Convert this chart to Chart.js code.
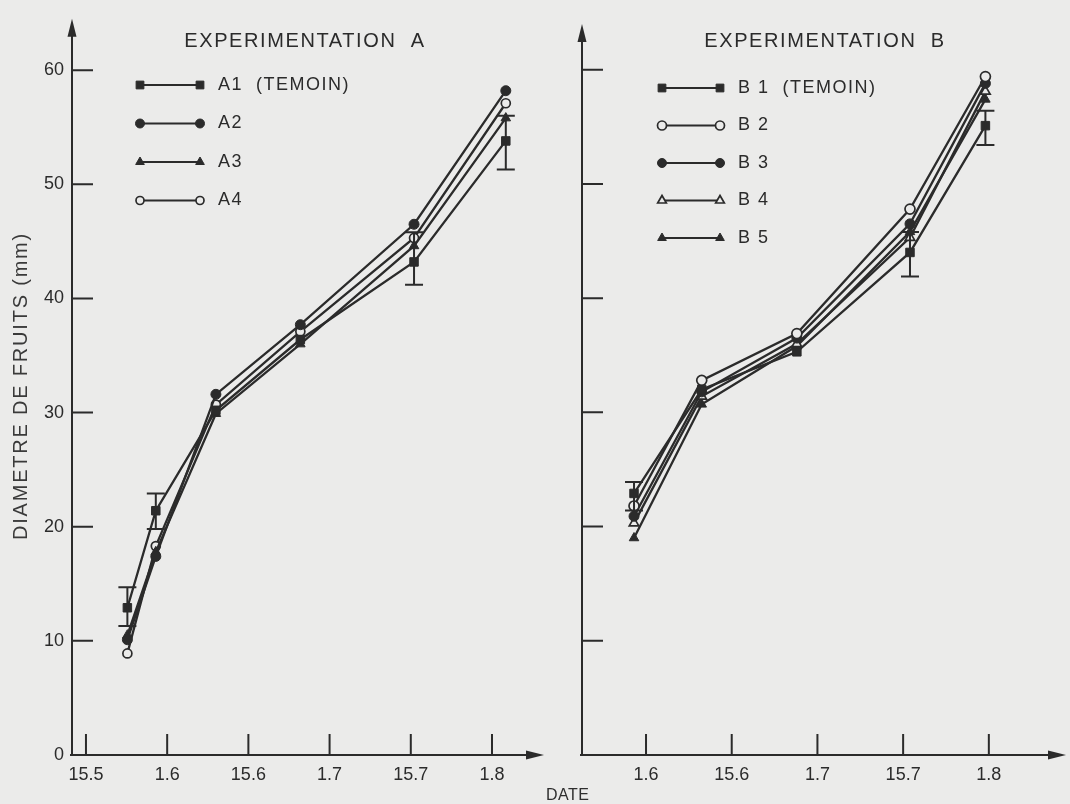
<!DOCTYPE html>
<html>
<head>
<meta charset="utf-8">
<title>Diametre de fruits</title>
<script src="https://cdn.jsdelivr.net/npm/chart.js@4.4.1/dist/chart.umd.min.js"></script>
<style>
  html, body { margin: 0; padding: 0; background: #ebebea; }
  #wrap { position: relative; width: 1070px; height: 804px; overflow: hidden; }
  canvas { position: absolute; top: 0; }
  #chartA { left: 0; }
  #chartB { left: 540px; }
  #dateLabel {
    position: absolute; left: 546px; top: 786px;
    font: 16px "Liberation Sans", Arial, sans-serif; color: #2e2e2e; letter-spacing: 0.5px;
  }
</style>
</head>
<body>
<div id="wrap">
  <canvas id="chartA" width="555" height="804"></canvas>
  <canvas id="chartB" width="530" height="804"></canvas>
  <div id="dateLabel">DATE</div>
</div>
<script>
// --- données ---
const dateLabels = ['15.5', '1.6', '15.6', '1.7', '15.7', '1.8'];
const yTicks = [0, 10, 20, 30, 40, 50, 60];
const yTitle = 'DIAMETRE DE FRUITS (mm)';

// Experimentation A  (dates = position sur l'axe, 0 = 15.5, 1 = 1.6 ...)
const titleA = 'EXPERIMENTATION  A';
const datesA = [0.51, 0.86, 1.60, 2.64, 4.04, 5.17];
const namesA = ['A1  (TEMOIN)', 'A2', 'A3', 'A4'];
const a1 = [12.9, 21.4, 30.2, 36.4, 43.2, 53.8];
const a2 = [10.1, 17.4, 31.6, 37.7, 46.5, 58.2];
const a3 = [10.5, 17.8, 29.9, 36.0, 44.6, 55.8];
const a4 = [8.9, 18.3, 30.7, 37.1, 45.3, 57.1];
const a1Low = [11.3, 19.8, null, null, 41.2, 51.3];
const a1High = [14.7, 22.9, null, null, 45.8, 56.0];

// Experimentation B
const titleB = 'EXPERIMENTATION  B';
const datesB = [0.86, 1.65, 2.76, 4.08, 4.96];
const namesB = ['B 1  (TEMOIN)', 'B 2', 'B 3', 'B 4', 'B 5'];
const b1 = [22.9, 32.0, 35.3, 44.0, 55.1];
const b2 = [21.8, 32.8, 36.9, 47.8, 59.4];
const b3 = [20.9, 31.8, 36.5, 46.5, 58.8];
const b4 = [20.3, 31.4, 36.0, 45.3, 58.1];
const b5 = [19.0, 30.7, 35.8, 45.8, 57.4];
const b1Low = [21.4, null, null, 41.9, 53.4];
const b1High = [23.9, null, null, 45.8, 56.4];

// --- styles ---
const ink = '#2b2b2b';
const paper = '#ebebea';
const font = '"Liberation Sans", Arial, sans-serif';
const markA = [
  { style: 'rect', radius: 6, open: false },
  { style: 'circle', radius: 5, open: false },
  { style: 'triangle', radius: 5.5, open: false },
  { style: 'circle', radius: 4.5, open: true }
];
const markB = [
  { style: 'rect', radius: 6, open: false },
  { style: 'circle', radius: 5, open: true },
  { style: 'circle', radius: 5, open: false },
  { style: 'triangle', radius: 5.5, open: true },
  { style: 'triangle', radius: 5.5, open: false }
];

function makeDatasets(dates, series, names, marks) {
    return series.map((vals, i) => ({
        label: names[i],
        data: dates.map((d, k) => ({ x: d, y: vals[k] })),
        borderColor: ink,
        borderWidth: 2.3,
        pointStyle: marks[i].style,
        pointRadius: marks[i].radius,
        pointBorderWidth: marks[i].open ? 1.7 : 1,
        pointBorderColor: ink,
        pointBackgroundColor: marks[i].open ? paper : ink,
        tension: 0
    }));
}

// axes avec flèches et graduations tournées vers l'intérieur
const axesPlugin = {
    id: 'axesArrows',
    afterDraw(chart, args, o) {
        const { ctx, chartArea: a, scales: { x, y } } = chart;
        ctx.save();
        ctx.strokeStyle = ink;
        ctx.fillStyle = ink;
        ctx.lineWidth = 2;
        ctx.beginPath();
        ctx.moveTo(a.left, a.bottom);
        ctx.lineTo(a.left, a.top + 14);
        ctx.moveTo(a.left - 2, a.bottom);
        ctx.lineTo(a.right + o.overrun - 14, a.bottom);
        ctx.stroke();
        // flèche haut
        ctx.beginPath();
        ctx.moveTo(a.left, a.top);
        ctx.lineTo(a.left - 4.5, a.top + 18);
        ctx.lineTo(a.left + 4.5, a.top + 18);
        ctx.closePath();
        ctx.fill();
        // flèche droite
        const tip = a.right + o.overrun;
        ctx.beginPath();
        ctx.moveTo(tip, a.bottom);
        ctx.lineTo(tip - 18, a.bottom - 4.5);
        ctx.lineTo(tip - 18, a.bottom + 4.5);
        ctx.closePath();
        ctx.fill();
        // graduations
        ctx.beginPath();
        y.ticks.forEach(t => {
            if (t.value === 0) return;
            const py = y.getPixelForValue(t.value);
            ctx.moveTo(a.left, py);
            ctx.lineTo(a.left + 21, py);
        });
        x.ticks.forEach(t => {
            const px = x.getPixelForValue(t.value);
            ctx.moveTo(px, a.bottom);
            ctx.lineTo(px, a.bottom - 21);
        });
        ctx.stroke();
        ctx.restore();
    }
};

// barres d'erreur du témoin
const errorBarPlugin = {
    id: 'errorBars',
    afterDatasetsDraw(chart, args, o) {
        const { ctx, scales: { x, y } } = chart;
        ctx.save();
        ctx.strokeStyle = ink;
        ctx.lineWidth = 2;
        ctx.beginPath();
        o.dates.forEach((d, i) => {
            if (o.low[i] == null) return;
            const px = x.getPixelForValue(d);
            const p1 = y.getPixelForValue(o.low[i]);
            const p2 = y.getPixelForValue(o.high[i]);
            ctx.moveTo(px, p1); ctx.lineTo(px, p2);
            ctx.moveTo(px - 9, p1); ctx.lineTo(px + 9, p1);
            ctx.moveTo(px - 9, p2); ctx.lineTo(px + 9, p2);
        });
        ctx.stroke();
        ctx.restore();
    }
};

// titre, légende (symbole — symbole) et titre de l'axe Y
const annotatePlugin = {
    id: 'annotate',
    afterDraw(chart, args, o) {
        const ctx = chart.ctx;
        ctx.save();
        ctx.fillStyle = ink;
        ctx.textBaseline = 'middle';
        ctx.font = '20px ' + font;
        ctx.letterSpacing = '1.6px';
        ctx.textAlign = 'center';
        ctx.fillText(o.title, o.titleX, o.titleY);

        ctx.font = '18px ' + font;
        ctx.letterSpacing = '1.5px';
        ctx.textAlign = 'left';
        chart.data.datasets.forEach((ds, i) => {
            const ly = o.legendY + i * o.legendStep;
            ctx.strokeStyle = ink;
            ctx.lineWidth = 2;
            ctx.beginPath();
            ctx.moveTo(o.legendX1, ly);
            ctx.lineTo(o.legendX2, ly);
            ctx.stroke();
            [o.legendX1, o.legendX2].forEach(px => {
                ctx.fillStyle = ds.pointBackgroundColor;
                ctx.strokeStyle = ds.pointBorderColor;
                ctx.lineWidth = ds.pointBorderWidth;
                Chart.helpers.drawPoint(ctx, {
                    pointStyle: ds.pointStyle, radius: ds.pointRadius - 0.5,
                    rotation: 0, borderWidth: ds.pointBorderWidth
                }, px, ly);
            });
            ctx.fillStyle = ink;
            ctx.fillText(ds.label, o.legendX2 + 18, ly);
        });

        if (o.yTitle) {
            ctx.translate(21, 386);
            ctx.rotate(-Math.PI / 2);
            ctx.textAlign = 'center';
            ctx.font = '20px ' + font;
            ctx.letterSpacing = '1.8px';
            ctx.fillStyle = '#3a3a3a';
            ctx.fillText(o.yTitle, 0, 0);
        }
        ctx.restore();
    }
};

function makePanel(id, cfg) {
    return new Chart(document.getElementById(id), {
        type: 'line',
        data: { datasets: makeDatasets(cfg.dates, cfg.series, cfg.names, cfg.marks) },
        plugins: [axesPlugin, errorBarPlugin, annotatePlugin],
        options: {
            responsive: false,
            animation: false,
            events: [],
            layout: { padding: { top: cfg.top, right: cfg.right, left: 0, bottom: 0 } },
            plugins: {
                legend: { display: false },
                tooltip: { enabled: false },
                axesArrows: { overrun: cfg.overrun },
                errorBars: { dates: cfg.dates, low: cfg.low, high: cfg.high },
                annotate: cfg.annotate
            },
            scales: {
                x: {
                    type: 'linear',
                    min: cfg.xMin,
                    max: cfg.xMax,
                    afterBuildTicks: s => { s.ticks = cfg.xTicks.map(v => ({ value: v })); },
                    afterFit: s => { s.height = 49; },
                    grid: { display: false, drawTicks: false },
                    border: { display: false },
                    ticks: {
                        padding: 9,
                        color: ink,
                        font: { family: font, size: 18 },
                        callback: v => dateLabels[v]
                    }
                },
                y: {
                    type: 'linear',
                    min: 0,
                    max: cfg.yMax,
                    afterBuildTicks: s => { s.ticks = yTicks.map(v => ({ value: v })); },
                    afterFit: s => { s.width = cfg.yWidth; },
                    grid: { display: false, drawTicks: false },
                    border: { display: false },
                    ticks: {
                        display: cfg.yLabels,
                        padding: 8,
                        color: ink,
                        font: { family: font, size: 18 }
                    }
                }
            }
        }
    });
}

makePanel('chartA', {
    dates: datesA, series: [a1, a2, a3, a4], names: namesA, marks: markA,
    low: a1Low, high: a1High,
    xMin: -0.172, xMax: 5.468, xTicks: [0, 1, 2, 3, 4, 5],
    yMax: 64.5, yWidth: 72, yLabels: true, top: 15, right: 25, overrun: 14,
    annotate: { title: titleA, titleX: 305, titleY: 41, legendX1: 140, legendX2: 200,
                legendY: 85, legendStep: 38.5, yTitle: yTitle }
});

makePanel('chartB', {
    dates: datesB, series: [b1, b2, b3, b4, b5], names: namesB, marks: markB,
    low: b1Low, high: b1High,
    xMin: 0.253, xMax: 5.737, xTicks: [1, 2, 3, 4, 5],
    yMax: 64.0, yWidth: 42, yLabels: false, top: 24, right: 18, overrun: 14,
    annotate: { title: titleB, titleX: 285, titleY: 41, legendX1: 122, legendX2: 180,
                legendY: 88, legendStep: 37.5, yTitle: null }
});
</script>
</body>
</html>
